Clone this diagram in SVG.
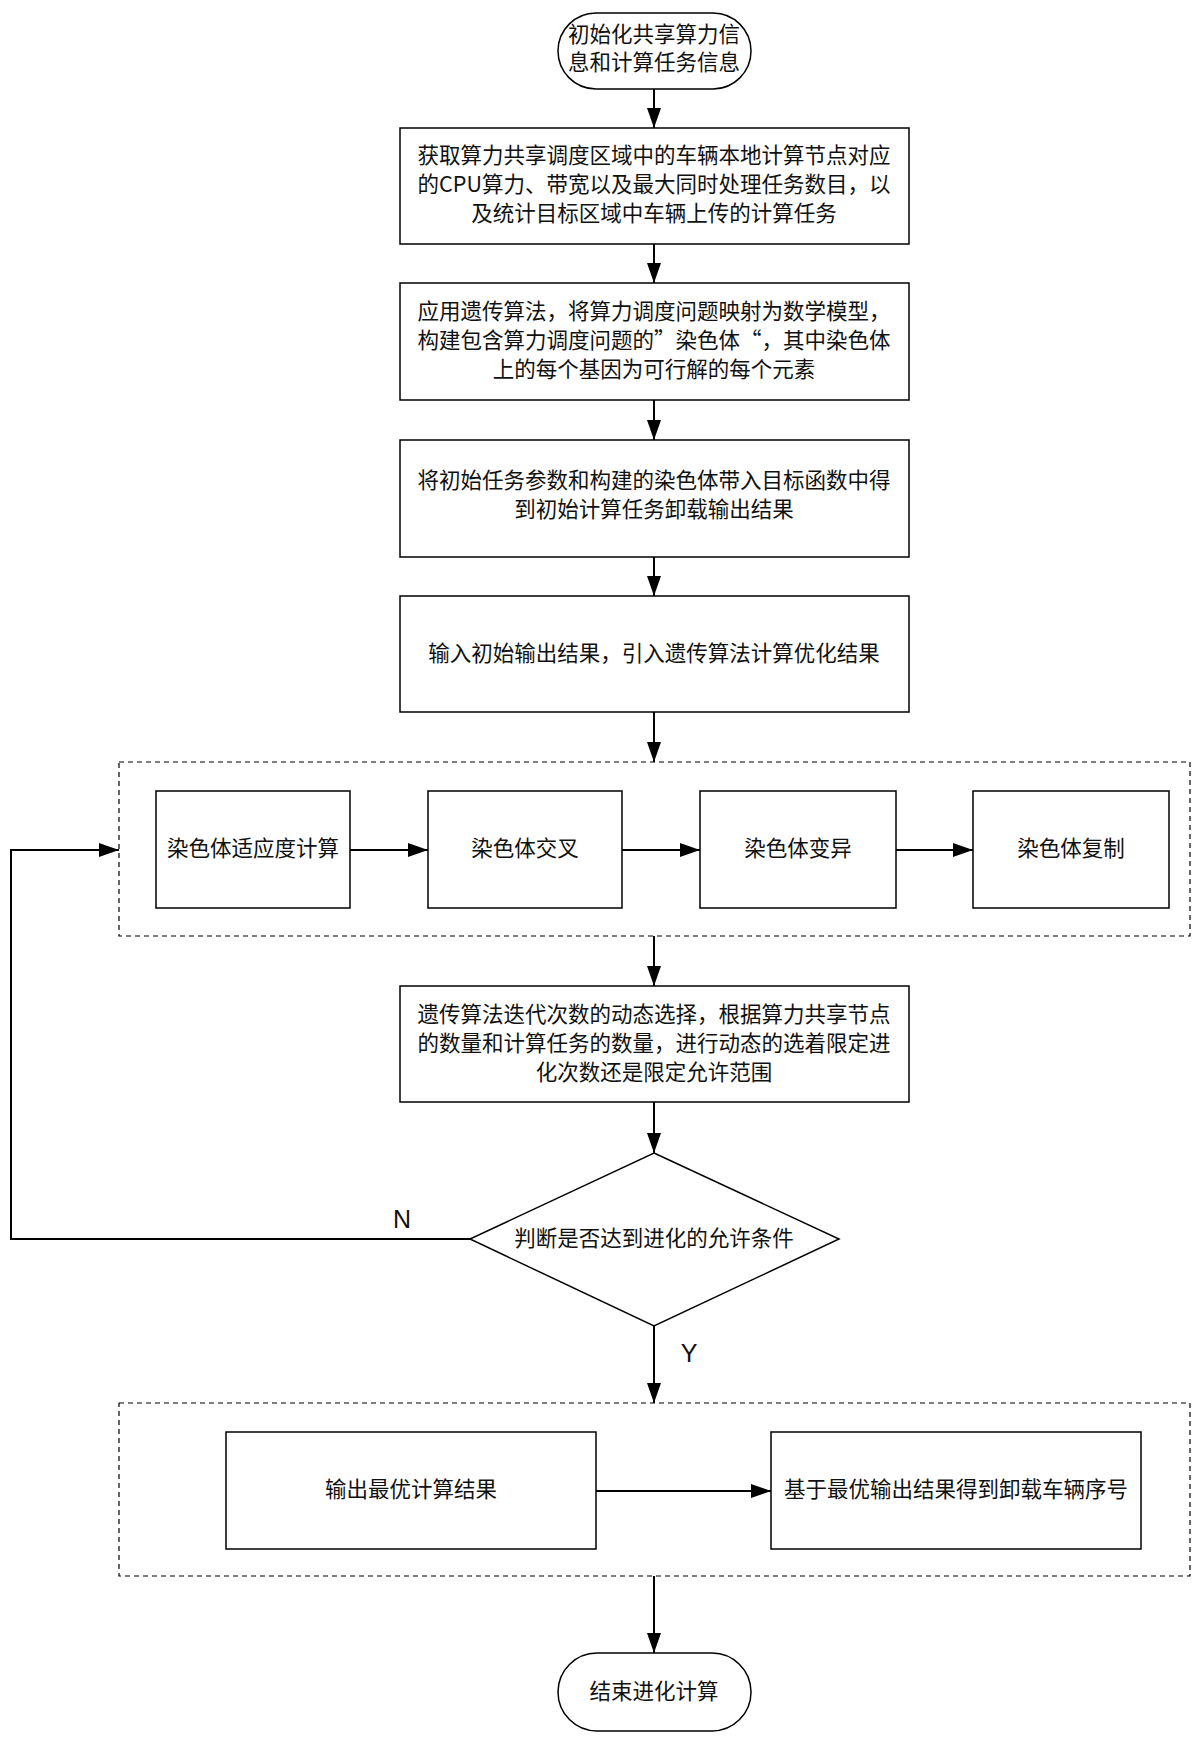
<svg xmlns="http://www.w3.org/2000/svg" width="1200" height="1741" viewBox="0 0 1200 1741">
<style>
.b{fill:#fff;stroke:#000;stroke-width:1.5}
.d{fill:none;stroke:#000;stroke-width:1.2;stroke-dasharray:5,4}
.l{fill:none;stroke:#000;stroke-width:2;marker-end:url(#a)}
text{font-family:"Noto Sans CJK SC","Liberation Sans",sans-serif;font-size:21.5px;text-anchor:middle;fill:#111}
.lab{font-family:"Liberation Sans",sans-serif;font-size:25px}
</style>
<defs><marker id="a" viewBox="0 0 20 14" refX="20" refY="7" markerWidth="20" markerHeight="14" markerUnits="userSpaceOnUse" orient="auto"><path d="M0,0L20,7L0,14z" fill="#000"/></marker></defs>
<rect width="1200" height="1741" fill="#fff"/>
<g id="g1"><rect class="d" x="119" y="762" width="1071" height="174"/></g>
<g id="g2"><rect class="d" x="119" y="1403" width="1071" height="173"/></g>
<g id="start"><rect class="b" x="558" y="13" width="193" height="76" rx="38" stroke-width="2.5"/><text x="654" y="42">初始化共享算力信</text><text x="654" y="70">息和计算任务信息</text></g>
<g id="n1"><rect class="b" x="400" y="128" width="509" height="116"/><text x="654" y="163">获取算力共享调度区域中的车辆本地计算节点对应</text><text x="654" y="192">的CPU算力、带宽以及最大同时处理任务数目，以</text><text x="654" y="221">及统计目标区域中车辆上传的计算任务</text></g>
<g id="n2"><rect class="b" x="400" y="283" width="509" height="117"/><text x="654" y="319">应用遗传算法，将算力调度问题映射为数学模型，</text><text x="654" y="348">构建包含算力调度问题的”染色体“，其中染色体</text><text x="654" y="377">上的每个基因为可行解的每个元素</text></g>
<g id="n3"><rect class="b" x="400" y="440" width="509" height="117"/><text x="654" y="488">将初始任务参数和构建的染色体带入目标函数中得</text><text x="654" y="517">到初始计算任务卸载输出结果</text></g>
<g id="n4"><rect class="b" x="400" y="596" width="509" height="116"/><text x="654" y="661">输入初始输出结果，引入遗传算法计算优化结果</text></g>
<g id="c1"><rect class="b" x="156" y="791" width="194" height="117"/><text x="253" y="856">染色体适应度计算</text></g>
<g id="c2"><rect class="b" x="428" y="791" width="194" height="117"/><text x="525" y="856">染色体交叉</text></g>
<g id="c3"><rect class="b" x="700" y="791" width="196" height="117"/><text x="798" y="856">染色体变异</text></g>
<g id="c4"><rect class="b" x="973" y="791" width="196" height="117"/><text x="1071" y="856">染色体复制</text></g>
<g id="n5"><rect class="b" x="400" y="986" width="509" height="116"/><text x="654" y="1022">遗传算法迭代次数的动态选择，根据算力共享节点</text><text x="654" y="1051">的数量和计算任务的数量，进行动态的选着限定进</text><text x="654" y="1080">化次数还是限定允许范围</text></g>
<g id="dec"><polygon class="b" points="654,1153 839,1239 654,1326 470,1239"/><text x="654" y="1246">判断是否达到进化的允许条件</text></g>
<g id="o1"><rect class="b" x="226" y="1432" width="370" height="117"/><text x="411" y="1497">输出最优计算结果</text></g>
<g id="o2"><rect class="b" x="771" y="1432" width="370" height="117"/><text x="956" y="1497">基于最优输出结果得到卸载车辆序号</text></g>
<g id="end"><rect class="b" x="558" y="1653" width="193" height="78" rx="39" stroke-width="2.5"/><text x="654" y="1699">结束进化计算</text></g>
<g id="connectors">
<path class="l" d="M654,89V128"/>
<path class="l" d="M654,244V283"/>
<path class="l" d="M654,400V440"/>
<path class="l" d="M654,557V596"/>
<path class="l" d="M654,712V762"/>
<path class="l" d="M350,850H428"/>
<path class="l" d="M622,850H700"/>
<path class="l" d="M896,850H973"/>
<path class="l" d="M654,936V986"/>
<path class="l" d="M654,1102V1153"/>
<path class="l" d="M470,1239H11V850H119"/>
<path class="l" d="M654,1326V1403"/>
<path class="l" d="M596,1491H771"/>
<path class="l" d="M654,1576V1653"/>
<text class="lab" x="402" y="1228">N</text>
<text class="lab" x="689" y="1362">Y</text>
</g>
</svg>
